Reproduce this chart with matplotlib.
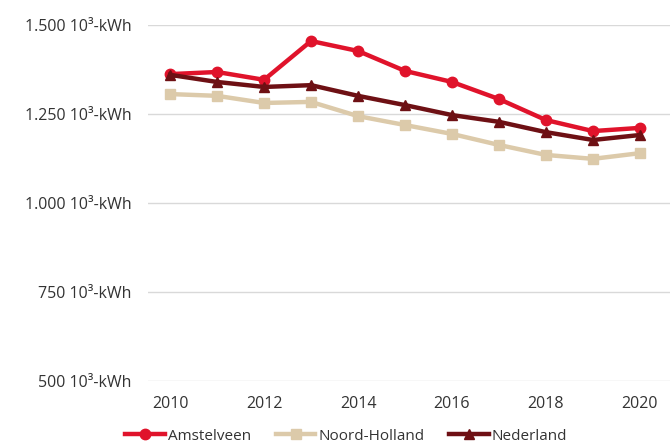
import matplotlib.pyplot as plt

jaren = list(range(2010, 2021))
amstelveen = [1362, 1368, 1346, 1455, 1427, 1371, 1340, 1292, 1233, 1202, 1211]
noord_holland = [1306, 1301, 1281, 1284, 1244, 1219, 1194, 1163, 1135, 1124, 1140]
nederland = [1360, 1340, 1326, 1331, 1301, 1275, 1247, 1228, 1199, 1177, 1191]

y_ticks = [500, 750, 1000, 1250, 1500]
y_labels = ['500 10³-kWh', '750 10³-kWh', '1.000 10³-kWh', '1.250 10³-kWh', '1.500 10³-kWh']

plt.rcParams['font.family'] = ['Open Sans', 'DejaVu Sans']

fig = plt.figure(figsize=(6.7, 4.46), dpi=100)
ax = fig.add_axes([148/670, 65/446, 1 - 148/670, 356/446])

ax.plot(jaren, amstelveen, color='#E0132B', lw=3.2, marker='o', ms=7.5, label='Amstelveen', zorder=3)
ax.plot(jaren, noord_holland, color='#DCCAAA', lw=3.2, marker='s', ms=6.5, label='Noord-Holland', zorder=2)
ax.plot(jaren, nederland, color='#6E1014', lw=3.2, marker='^', ms=7.5, label='Nederland', zorder=4)

ax.set_xlim(2009.53, 2020.64)
ax.set_ylim(500, 1500)
ax.set_yticks(y_ticks)
ax.set_yticklabels(y_labels)
ax.set_xticks(range(2010, 2021, 2))
ax.grid(axis='y', color='#D9D9D9', lw=1)
ax.set_axisbelow(True)
for s in ax.spines.values():
    s.set_visible(False)
ax.tick_params(length=0, labelsize=11.5, colors='#333333')
ax.tick_params(axis='y', pad=12)
ax.tick_params(axis='x', pad=11)

ax.legend(loc='upper center', bbox_to_anchor=(0.38, -0.095), ncol=3, frameon=False,
          fontsize=11, handlelength=2.6, columnspacing=1.6, handletextpad=0.2,
          labelcolor='#333333')

fig.savefig('out.png', dpi=100)
